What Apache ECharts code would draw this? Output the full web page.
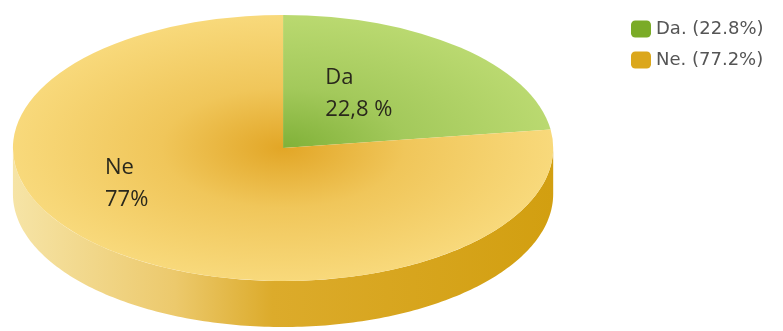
<!DOCTYPE html>
<html>
<head>
<meta charset="utf-8">
<script src="https://cdn.jsdelivr.net/npm/echarts@6/dist/echarts.min.js"></script>
<style>
  html, body { margin: 0; padding: 0; background: #ffffff; }
  #chart { width: 783px; height: 331px; }
</style>
</head>
<body>
<div id="chart"></div>
<script>
// Answer categories and their shares (percent)
const categories = ['Da.', 'Ne.'];
const shares = [22.8, 77.2];
const sliceLabels = ['Da\n22,8 %', 'Ne\n77%'];
const legendShares = ['22.8%', '77.2%'];

// Per-slice palette: legend swatch, radial top-face stops, side stops
const swatchColors = ['#7aab27', '#dba71c'];
const topStops = [
  [[0, '#80b138'], [0.45, '#a3c95b'], [1, '#bad970']],
  [[0, '#e2a626'], [0.45, '#f0c65a'], [1, '#f8d97b']]
];
const sideStops = [[0, '#f6e4a6'], [0.3, '#ecc96c'], [0.48, '#dcab2b'], [1, '#d29f10']];
// Label anchor offsets, as fractions of the radii from the pie centre
const labelAnchor = [[0.156, -0.647], [-0.659, 0.029]];

const RAD = Math.PI / 180;
const total = shares.reduce((a, b) => a + b, 0);

function geometry(api) {
  const W = api.getWidth(), H = api.getHeight();
  return { cx: W * 0.3615, cy: H * 0.447, rx: W * 0.345, ry: H * 0.402, depth: H * 0.139 };
}

function stops(list) {
  return list.map(s => ({ offset: s[0], color: s[1] }));
}

function sliceRenderer(idx) {
  return function (params, api) {
    const g = geometry(api);
    let cum = 0;
    for (let j = 0; j < idx; j++) cum += shares[j];
    // angles in degrees, 90 = top, decreasing clockwise
    const th0 = 90 - 360 * cum / total;
    const th1 = th0 - 360 * shares[idx] / total;
    const pt = (th, dy) => [g.cx + g.rx * Math.cos(th * RAD), g.cy - g.ry * Math.sin(th * RAD) + dy];
    const children = [];

    // visible front wall: portion of the arc in the lower half
    const hi = Math.min(th0, 0), lo = Math.max(th1, -180);
    if (hi > lo) {
      const top = [], bottom = [];
      for (let th = hi; th > lo; th -= 1) { top.push(pt(th, 0)); bottom.push(pt(th, g.depth)); }
      top.push(pt(lo, 0)); bottom.push(pt(lo, g.depth));
      children.push({
        type: 'polygon',
        z2: 1,
        shape: { points: top.concat(bottom.reverse()) },
        style: {
          fill: {
            type: 'linear', global: true,
            x: g.cx - g.rx, y: 0, x2: g.cx + g.rx, y2: 0,
            colorStops: stops(sideStops)
          }
        }
      });
    }

    // top face: circular sector squashed into an ellipse
    children.push({
      type: 'sector',
      z2: 2,
      scaleY: g.ry / g.rx,
      originX: g.cx,
      originY: g.cy,
      shape: { cx: g.cx, cy: g.cy, r: g.rx, r0: 0, startAngle: -th0 * RAD, endAngle: -th1 * RAD, clockwise: true },
      style: {
        fill: { type: 'radial', global: true, x: g.cx, y: g.cy, r: g.rx, colorStops: stops(topStops[idx]) }
      }
    });

    // data label
    children.push({
      type: 'text',
      z2: 3,
      x: g.cx + labelAnchor[idx][0] * g.rx,
      y: g.cy + labelAnchor[idx][1] * g.ry,
      style: {
        text: sliceLabels[idx],
        fill: '#2a281c',
        font: '22px "Open Sans", sans-serif',
        lineHeight: 32,
        align: 'left',
        verticalAlign: 'top'
      }
    });

    return { type: 'group', children: children };
  };
}

const chart = echarts.init(document.getElementById('chart'), null, { renderer: 'canvas' });
chart.setOption({
  animation: false,
  backgroundColor: '#ffffff',
  legend: {
    orient: 'vertical',
    left: 626,
    top: 15,
    itemWidth: 20,
    itemHeight: 17,
    itemGap: 13,
    icon: 'roundRect',
    data: categories,
    formatter: name => name + ' (' + legendShares[categories.indexOf(name)] + ')',
    textStyle: { fontFamily: 'DejaVu Sans', fontSize: 18, color: '#555555', padding: [0, 0, 0, 0] }
  },
  series: categories.map((name, i) => ({
    type: 'custom',
    name: name,
    coordinateSystem: 'none',
    silent: true,
    itemStyle: { color: swatchColors[i] },
    data: [[shares[i]]],
    renderItem: sliceRenderer(i)
  }))
});
</script>
</body>
</html>
